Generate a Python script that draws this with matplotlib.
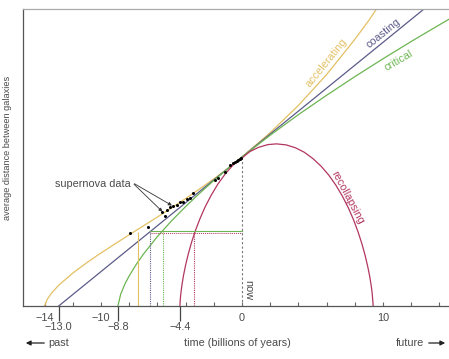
import matplotlib
matplotlib.use('Agg')
import matplotlib.pyplot as plt

plt.rcParams['font.family'] = ['Liberation Sans', 'DejaVu Sans']

# time in billions of years (0 = now), distance relative to today
t_acc = [-14, -13.8, -13.5, -13, -12, -11, -10, -9, -8, -7, -6, -5, -4, -3, -2, -1,
         0, 2, 4, 6, 8, 9, 10]
a_acc = [0, 0.047, 0.087, 0.139, 0.221, 0.291, 0.356, 0.417, 0.478, 0.537, 0.597,
         0.658, 0.721, 0.786, 0.853, 0.923, 1.0, 1.163, 1.346, 1.553, 1.789, 1.917, 2.057]

t_coast = [-13, 14]
a_coast = [0, 2.077]

t_crit = [-8.8, -8.6, -8.3, -8, -7.5, -7, -6, -5, -4, -3, -2, -1, 0, 2, 4, 6, 8,
          10, 12, 14, 15]
a_crit = [0, 0.080, 0.148, 0.202, 0.279, 0.347, 0.466, 0.571, 0.667, 0.757, 0.842,
          0.922, 1.0, 1.146, 1.284, 1.414, 1.539, 1.659, 1.775, 1.887, 1.942]

t_rec = [-4.4, -4.39, -4.367, -4.323, -4.251, -4.146, -4.002, -3.816, -3.584, -3.305,
         -2.976, -2.599, -2.174, -1.704, -1.191, -0.641, 0.043, 0.554, 1.186, 1.832,
         2.449, 3.138, 3.783, 4.413, 5.021, 5.601, 6.148, 6.656, 7.121, 7.541, 7.913,
         8.236, 8.511, 8.736, 8.917, 9.057, 9.158, 9.227, 9.263, 9.289, 9.298]
a_rec = [0, 0.024, 0.054, 0.095, 0.146, 0.206, 0.273, 0.347, 0.425, 0.506,
         0.587, 0.668, 0.745, 0.819, 0.886, 0.945, 0.996, 1.036, 1.065, 1.083,
         1.088, 1.081, 1.062, 1.032, 0.990, 0.939, 0.879, 0.811, 0.737, 0.659, 0.578,
         0.496, 0.415, 0.338, 0.265, 0.199, 0.140, 0.090, 0.050, 0.022, 0]

# supernova observations
sn_t = [-7.94, -6.67, -5.67, -5.46, -5.32, -5.11, -4.89, -4.61, -4.40, -4.18, -3.90,
        -3.69, -3.48, -1.91, -1.70, -1.21, -0.85, -0.64, -0.50, -0.35, -0.25, -0.14, -0.05]
sn_a = [0.490, 0.530, 0.631, 0.604, 0.644, 0.664, 0.671, 0.678, 0.698, 0.698, 0.718,
        0.725, 0.758, 0.846, 0.859, 0.899, 0.946, 0.960, 0.966, 0.973, 0.980, 0.987, 0.995]

# age of the universe for each model
age_t = [-13.0, -8.8, -4.4]
age_labels = ['\u221213.0', '\u22128.8', '\u22124.4']

# time when distances were half of today's
half_a = 0.497
half_t = {'acc': -7.4, 'coast': -6.5, 'crit': -5.6, 'rec': -3.4}

c_acc = '#e3c063'
c_coast = '#5b5b8a'
c_crit = '#6cb552'
c_rec = '#b2365f'
grey = '#4a4a4a'

fig = plt.figure(figsize=(4.49, 3.59), dpi=100)
ax = fig.add_axes([23/449, 53/359, 426/449, 297/359])

ax.plot(t_acc, a_acc, color=c_acc, lw=0.9)
ax.plot(t_coast, a_coast, color=c_coast, lw=0.9)
ax.plot(t_crit, a_crit, color=c_crit, lw=0.9)
ax.plot(t_rec, a_rec, color=c_rec, lw=0.9)

# lookback guide lines
dot = (0, (1, 1))
ax.plot([half_t['coast'], 0], [half_a + 0.006, half_a + 0.006], color=c_crit, lw=0.8)
ax.plot([half_t['coast'], 0], [half_a - 0.006, half_a - 0.006], color=c_rec, lw=0.7, ls=dot)
ax.vlines(half_t['acc'], 0, half_a, color=c_acc, lw=0.8)
ax.vlines(half_t['coast'], 0, half_a, color=c_coast, lw=0.8, ls=dot)
ax.vlines(half_t['crit'], 0, half_a, color=c_crit, lw=0.8, ls=dot)
ax.vlines(half_t['rec'], 0, half_a, color=c_rec, lw=0.8, ls=dot)
ax.vlines(0, 0, 1, color='#777777', lw=0.8, ls=(0, (2, 2)))

ax.plot(sn_t, sn_a, 'o', color='k', ms=2.2, mec='none')

ax.annotate('', xy=(-5.5, 0.62), xytext=(-7.8, 0.83),
            arrowprops=dict(arrowstyle='-|>', lw=0.6, color='#333333', mutation_scale=5))
ax.annotate('', xy=(-4.8, 0.665), xytext=(-7.8, 0.83),
            arrowprops=dict(arrowstyle='-|>', lw=0.6, color='#333333', mutation_scale=5))
ax.text(-7.9, 0.82, 'supernova data', ha='right', va='center', fontsize=7.8, color=grey)

# curve names
ax.text(6.0, 1.63, 'accelerating', color=c_acc, fontsize=7.8, rotation=51,
        ha='center', va='center', rotation_mode='anchor')
ax.text(10.0, 1.83, 'coasting', color=c_coast, fontsize=7.8, rotation=39,
        ha='center', va='center', rotation_mode='anchor')
ax.text(11.1, 1.65, 'critical', color=c_crit, fontsize=7.8, rotation=30,
        ha='center', va='center', rotation_mode='anchor')
ax.text(7.45, 0.73, 'recollapsing', color=c_rec, fontsize=7.8, rotation=-62,
        ha='center', va='center', rotation_mode='anchor')
ax.text(0.45, 0.11, 'now', color=grey, fontsize=7.8, rotation=-90,
        ha='center', va='center', rotation_mode='anchor')

ax.set_xlim(-15.53, 14.68)
ax.set_ylim(0, 1.993)

ticks = list(range(-14, 15, 2))
labels = []
for v in ticks:
    labels.append('\u2212' + str(-v) if v in (-14, -10) else (str(v) if v in (0, 10) else ''))
ax.set_xticks(ticks, labels=labels)
ax.set_yticks([])
ax.tick_params(axis='x', direction='in', length=3, width=0.8, color='#666666',
               labelsize=7.8, labelcolor=grey, pad=5)

sec = ax.secondary_xaxis('bottom')
sec.set_xticks(age_t, labels=age_labels)
sec.tick_params(direction='out', length=11, width=0.9, color='#444444',
                labelsize=7.8, labelcolor=grey, pad=0.8)
sec.spines['bottom'].set_visible(False)

ax.spines['right'].set_visible(False)
ax.spines['top'].set_color('#aaaaaa')
ax.spines['left'].set_color('#555555')
ax.spines['bottom'].set_color('#555555')
for s in ax.spines.values():
    s.set_linewidth(0.9)

fig.text(8/449, 1 - 148/359, 'average distance between galaxies', rotation=90,
         ha='center', va='center', fontsize=6.6, color=grey)
fig.text(237/449, 16/359, 'time (billions of years)', ha='center', va='center',
         fontsize=7.8, color=grey)
fig.text(48/449, 16/359, 'past', ha='left', va='center', fontsize=7.8, color=grey)
fig.text(424/449, 16/359, 'future', ha='right', va='center', fontsize=7.8, color=grey)
fig.add_artist(matplotlib.patches.FancyArrowPatch((47/449, 16/359), (23/449, 16/359),
               transform=fig.transFigure, arrowstyle='-|>', mutation_scale=7,
               lw=0.9, color='#222222'))
fig.add_artist(matplotlib.patches.FancyArrowPatch((426/449, 16/359), (448/449, 16/359),
               transform=fig.transFigure, arrowstyle='-|>', mutation_scale=7,
               lw=0.9, color='#222222'))

fig.savefig('out.png', dpi=100)
